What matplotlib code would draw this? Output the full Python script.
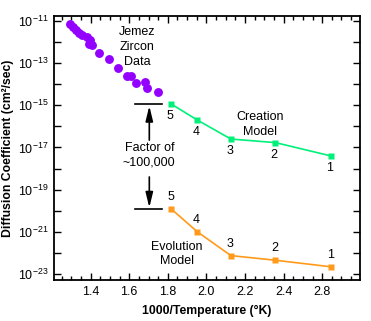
import numpy as np
import matplotlib
matplotlib.use("Agg")
import matplotlib.pyplot as plt
from matplotlib.ticker import FixedLocator, MultipleLocator, NullFormatter

plt.rcParams["font.family"] = ["Liberation Sans", "DejaVu Sans"]
plt.rcParams["mathtext.fontset"] = "custom"
plt.rcParams["mathtext.rm"] = "Liberation Sans"
plt.rcParams["mathtext.it"] = "Liberation Sans:italic"
plt.rcParams["mathtext.bf"] = "Liberation Sans:bold"

# Jemez zircon diffusion measurements (1000/T, log10 D)
jemez_x = [1.293, 1.311, 1.326, 1.342, 1.357, 1.379, 1.394, 1.389, 1.407,
           1.443, 1.495, 1.543, 1.587, 1.609, 1.633, 1.680, 1.692, 1.750]
jemez_logd = [-11.14, -11.28, -11.43, -11.55, -11.66, -11.74, -11.90, -12.07,
              -12.14, -12.52, -12.80, -13.21, -13.59, -13.63, -13.92, -13.91,
              -14.19, -14.38]

# Model predictions for samples 5..1
sample_ids = ["5", "4", "3", "2", "1"]
sample_x = [1.818, 1.953, 2.127, 2.358, 2.645]
creation_logd = [-14.94, -15.70, -16.60, -16.77, -17.40]
evolution_logd = [-19.92, -21.00, -22.13, -22.35, -22.66]

# x-axis tick positions and their printed labels
xtick_pos = [1.4, 1.6, 1.8, 2.0, 2.2, 2.4, 2.6]
xtick_labels = ["1.4", "1.6", "1.8", "2.0", "2.2", "2.4", "2.8"]

purple = "#9400FF"
green = "#00F07A"
orange = "#FF9A1A"
fs = 9

fig = plt.figure(figsize=(3.71, 3.21), dpi=100)
ax = fig.add_axes([54 / 371, 1 - 280 / 321, (360 - 54) / 371, (280 - 16) / 321])

ax.set_yscale("log")
ax.set_xlim(1.21, 2.796)
ax.set_ylim(10 ** -23.287, 10 ** -10.763)

jx = np.array(jemez_x)
jd = 10.0 ** np.array(jemez_logd)
ax.plot(jx, jd, "o", color=purple, ms=6.4, mec="none", zorder=3)

sx = np.array(sample_x)
cd = 10.0 ** np.array(creation_logd)
ed = 10.0 ** np.array(evolution_logd)
ax.plot(sx, cd, "-s", color=green, ms=4.5, lw=1.2, mec="none", zorder=3)
ax.plot(sx, ed, "-s", color=orange, ms=4.5, lw=1.2, mec="none", zorder=3)

for lab, x, c, e in zip(sample_ids, sx, cd, ed):
    ax.annotate(lab, (x, c), xytext=(-1, -8.8), textcoords="offset points",
                ha="center", va="center", fontsize=fs)
    ax.annotate(lab, (x, e), xytext=(-0.5, 8.5), textcoords="offset points",
                ha="center", va="center", fontsize=fs)

# "Factor of ~100,000" bracket between the two models at sample 5
bx0, bx1 = 1.630, 1.768
ax.plot([bx0, bx1], [cd[0], cd[0]], color="black", lw=1.2)
ax.plot([bx0, bx1], [ed[0], ed[0]], color="black", lw=1.2)
ax_x = 1.704
arrow = dict(arrowstyle="-|>,head_length=0.9,head_width=0.22", color="black",
             lw=1.2, shrinkA=0, shrinkB=0)
ax.annotate("", xy=(ax_x, 10 ** -15.03), xytext=(ax_x, 10 ** -16.65),
            arrowprops=arrow)
ax.annotate("", xy=(ax_x, 10 ** -19.85), xytext=(ax_x, 10 ** -18.40),
            arrowprops=arrow)
ax.text(ax_x, 10 ** -17.35, "Factor of\n~100,000", ha="center", va="center",
        fontsize=fs, linespacing=1.3)

ax.text(1.64, 10 ** -12.25, "Jemez\nZircon\nData", ha="center", va="center",
        fontsize=fs, linespacing=1.35)
ax.text(2.28, 10 ** -15.9, "Creation\nModel", ha="center", va="center",
        fontsize=fs, linespacing=1.3)
ax.text(1.845, 10 ** -22.05, "Evolution\nModel", ha="center", va="center",
        fontsize=fs, linespacing=1.3)

# y ticks: every decade, labels on odd exponents
decades = np.arange(-23, -10)
ax.yaxis.set_major_locator(FixedLocator(10.0 ** decades))
ax.yaxis.set_minor_locator(FixedLocator([]))
ax.set_yticklabels([r"$10^{%d}$" % d if d % 2 else "" for d in decades])
ax.xaxis.set_major_locator(FixedLocator(xtick_pos))
ax.set_xticklabels(xtick_labels)
ax.xaxis.set_minor_locator(MultipleLocator(0.05))
ax.xaxis.set_minor_formatter(NullFormatter())

ax.tick_params(which="both", direction="in", top=True, right=True,
               labelsize=fs, width=1.0, pad=4)
ax.tick_params(which="major", length=5)
ax.tick_params(which="minor", length=3)
for s in ax.spines.values():
    s.set_linewidth(1.3)

ax.set_xlabel("1000/Temperature (°K)", fontsize=8.8, fontweight="bold", labelpad=5)
ax.set_ylabel("Diffusion Coefficient (cm²/sec)", fontsize=8.8,
              fontweight="bold", labelpad=3)

fig.savefig("out.png", dpi=100)
